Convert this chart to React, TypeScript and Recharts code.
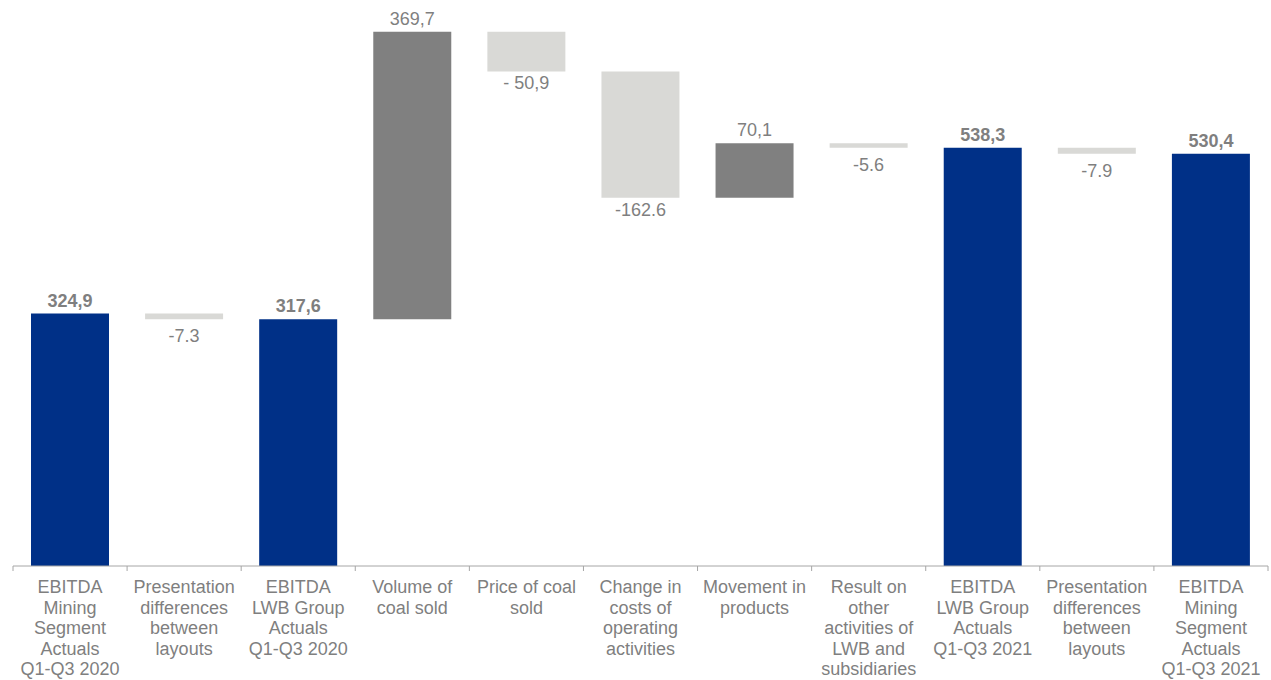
import React from "react";
import { BarChart, Bar, XAxis, YAxis, Cell, LabelList } from "recharts";

const categories = [
  "EBITDA\nMining\nSegment\nActuals\nQ1-Q3 2020",
  "Presentation\ndifferences\nbetween\nlayouts",
  "EBITDA\nLWB Group\nActuals\nQ1-Q3 2020",
  "Volume of\ncoal sold",
  "Price of coal\nsold",
  "Change in\ncosts of\noperating\nactivities",
  "Movement in\nproducts",
  "Result on\nother\nactivities of\nLWB and\nsubsidiaries",
  "EBITDA\nLWB Group\nActuals\nQ1-Q3 2021",
  "Presentation\ndifferences\nbetween\nlayouts",
  "EBITDA\nMining\nSegment\nActuals\nQ1-Q3 2021",
];
const values = [324.9, -7.3, 317.6, 369.7, -50.9, -162.6, 70.1, -5.6, 538.3, -7.9, 530.4];
const isTotal = [true, false, true, false, false, false, false, false, true, false, true];
const valueLabels = ["324,9", "-7.3", "317,6", "369,7", "- 50,9", "-162.6", "70,1", "-5.6", "538,3", "-7.9", "530,4"];

const NAVY = "#003087";
const DARK = "#808080";
const LIGHT = "#D9D9D6";
const TEXT = "#7F7F7F";

const W = 1271;
const H = 680;
const M = { top: 22, right: 3, left: 13, bottom: 0 };
const HALF_BAND = (W - M.left - M.right) / categories.length / 2;

let running = 0;
const data = categories.map((c, i) => {
  const v = values[i];
  let base: number;
  let size: number;
  if (isTotal[i]) {
    base = 0;
    size = v;
    running = v;
  } else if (v >= 0) {
    base = running;
    size = v;
    running += v;
  } else {
    base = running + v;
    size = -v;
    running += v;
  }
  const fill = isTotal[i] ? NAVY : v >= 0 ? DARK : LIGHT;
  return { name: c, base, size, fill, label: valueLabels[i], total: isTotal[i], neg: !isTotal[i] && v < 0 };
});

const Tick = (props: any) => {
  const { x, y, payload, index } = props;
  const lines = String(payload.value).split("\n");
  const last = index === categories.length - 1;
  return (
    <g>
      <line x1={x - HALF_BAND} y1={y} x2={x - HALF_BAND} y2={y + 5} stroke="#A6A6A6" strokeWidth={1} />
      {last && <line x1={x + HALF_BAND} y1={y} x2={x + HALF_BAND} y2={y + 5} stroke="#A6A6A6" strokeWidth={1} />}
      <text x={x} y={y + 27} textAnchor="middle" fill={TEXT} fontSize={18} fontFamily="'Liberation Sans', Arial, sans-serif">
        {lines.map((l, i) => (
          <tspan key={i} x={x} dy={i === 0 ? 0 : 20.5}>
            {l}
          </tspan>
        ))}
      </text>
    </g>
  );
};

const ValueLabel = (props: any) => {
  const { x, y, width, height, index } = props;
  const d = data[index];
  if (!d) return null;
  const cx = x + width / 2;
  const h = Math.abs(height);
  const top = Math.min(y, y + height);
  const bottom = top + h;
  const ty = d.neg ? bottom + (h < 8 ? 23 : 18) : top - 7;
  return (
    <text
      x={cx}
      y={ty}
      textAnchor="middle"
      fill={TEXT}
      fontSize={18}
      fontWeight={d.total ? "bold" : "normal"}
      fontFamily="'Liberation Sans', Arial, sans-serif"
    >
      {d.label}
    </text>
  );
};

export default function App() {
  return (
    <div style={{ position: "absolute", left: 0, top: 0, width: W, height: H, background: "#fff" }}>
      <BarChart width={W} height={H} data={data} margin={M} barSize={78}>
        <XAxis
          dataKey="name"
          interval={0}
          height={114}
          tickLine={false}
          tickSize={0}
          tickMargin={0}
          axisLine={{ stroke: "#A6A6A6" }}
          tick={<Tick />}
        />
        <YAxis hide domain={[0, 700]} />
        <Bar dataKey="base" stackId="w" fill="transparent" fillOpacity={0} isAnimationActive={false}>
          {data.map((d, i) => (
            <Cell key={i} fill="transparent" fillOpacity={0} />
          ))}
        </Bar>
        <Bar dataKey="size" stackId="w" isAnimationActive={false}>
          {data.map((d, i) => (
            <Cell key={i} fill={d.fill} />
          ))}
          <LabelList dataKey="label" content={<ValueLabel />} />
        </Bar>
      </BarChart>
    </div>
  );
}
